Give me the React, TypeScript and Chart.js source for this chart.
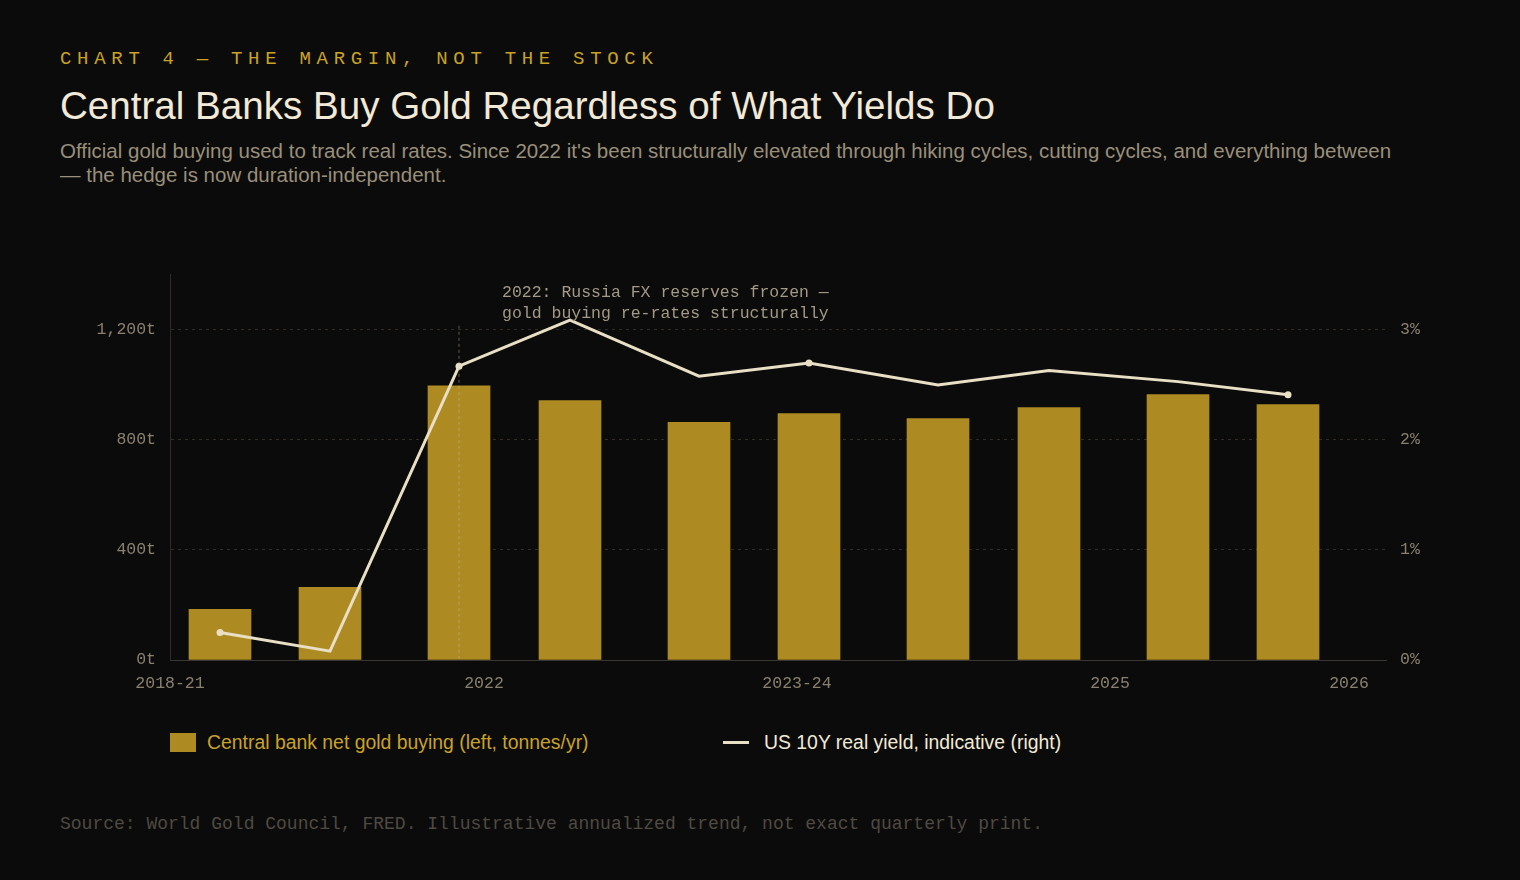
import React, { useEffect, useRef } from "react";
import { Chart, registerables } from "chart.js";
Chart.register(...registerables);

const barX = [50, 160, 289, 400, 529, 639, 768, 879, 1008, 1118];
const goldBuying = [184, 264, 997, 943, 864, 896, 878, 918, 965, 929];
const realYield = [0.25, 0.08, 2.67, 3.09, 2.58, 2.7, 2.5, 2.63, 2.53, 2.41];
const markerIdx = [0, 2, 5, 9];
const xTickValues = [0, 314, 627, 940, 1179];
const xTickLabels = ["2018-21", "2022", "2023-24", "2025", "2026"];
const leftTicks = [0, 400, 800, 1200];
const rightTicks = [0, 1, 2, 3];

const MONO = "'Liberation Mono', 'DejaVu Sans Mono', monospace";
const SANS = "'Liberation Sans', Arial, sans-serif";

export default function App() {
  const ref = useRef<HTMLCanvasElement>(null);
  useEffect(() => {
    const annot = {
      id: "annot",
      afterDatasetsDraw(chart: any) {
        const { ctx, scales } = chart;
        const x = scales.x.getPixelForValue(barX[2]);
        const yTop = scales.y.getPixelForValue(1215);
        const yBot = scales.y.getPixelForValue(0);
        ctx.save();
        ctx.strokeStyle = "rgba(200,190,160,0.45)";
        ctx.setLineDash([3, 3]);
        ctx.lineWidth = 1;
        ctx.beginPath();
        ctx.moveTo(x, yTop);
        ctx.lineTo(x, yBot);
        ctx.stroke();
        ctx.setLineDash([]);
        ctx.fillStyle = "#a39a86";
        ctx.font = "16.5px " + MONO;
        ctx.textBaseline = "middle";
        ctx.fillText("2022: Russia FX reserves frozen —", x + 43, scales.y.getPixelForValue(1337));
        ctx.fillText("gold buying re-rates structurally", x + 43, scales.y.getPixelForValue(1258));
        ctx.restore();
      },
    };
    const chart = new Chart(ref.current!, {
      type: "bar",
      data: {
        datasets: [
          {
            type: "line",
            data: barX.map((x, i) => ({ x, y: realYield[i] })),
            yAxisID: "y1",
            borderColor: "#e8dfc4",
            backgroundColor: "#e8dfc4",
            borderWidth: 3,
            pointRadius: barX.map((_, i) => (markerIdx.includes(i) ? 3.5 : 0)),
            pointBorderWidth: 0,
            order: 0,
          } as any,
          {
            type: "bar",
            data: barX.map((x, i) => ({ x, y: goldBuying[i] })),
            yAxisID: "y",
            backgroundColor: "#ad8a22",
            barThickness: 62,
            order: 1,
          },
        ],
      },
      options: {
        animation: false,
        responsive: false,
        maintainAspectRatio: false,
        layout: { padding: { top: 10 } },
        plugins: { legend: { display: false }, tooltip: { enabled: false } },
        scales: {
          x: {
            type: "linear",
            offset: false,
            min: 0,
            max: 1216,
            afterBuildTicks: (s: any) => {
              s.ticks = xTickValues.map((v) => ({ value: v }));
            },
            afterFit: (s: any) => {
              s.height = 40;
            },
            ticks: {
              autoSkip: false,
              maxRotation: 0,
              padding: 14,
              color: "#8a8070",
              font: { family: MONO, size: 16.5 },
              callback: (v: any) => xTickLabels[xTickValues.indexOf(v)] ?? "",
            },
            grid: { display: false, drawTicks: false },
            border: { color: "#3a3630", width: 1 },
          },
          y: {
            position: "left",
            min: 0,
            max: 1400,
            afterBuildTicks: (s: any) => {
              s.ticks = leftTicks.map((v) => ({ value: v }));
            },
            afterFit: (s: any) => {
              s.width = 110;
            },
            ticks: {
              padding: 14,
              color: "#8a8070",
              font: { family: MONO, size: 16.5 },
              callback: (v: any) => (v === 0 ? "0t" : Number(v).toLocaleString("en-US") + "t"),
            },
            grid: { color: "rgba(120,110,90,0.35)", drawTicks: false, tickBorderDash: [3, 3] } as any,
            border: { color: "#3a3630", dash: [3, 4] } as any,
          },
          y1: {
            position: "right",
            min: 0,
            max: 3.5,
            afterBuildTicks: (s: any) => {
              s.ticks = rightTicks.map((v) => ({ value: v }));
            },
            afterFit: (s: any) => {
              s.width = 54;
            },
            ticks: {
              padding: 14,
              color: "#8a8070",
              font: { family: MONO, size: 16.5 },
              callback: (v: any) => v + "%",
            },
            grid: { display: false, drawTicks: false },
            border: { display: false },
          },
        },
      },
      plugins: [
        annot,
        {
          id: "solidLeft",
          afterDraw(chart: any) {
            const { ctx, chartArea } = chart;
            ctx.save();
            ctx.strokeStyle = "#2e2b27";
            ctx.lineWidth = 1;
            ctx.beginPath();
            ctx.moveTo(chartArea.left + 0.5, chartArea.top);
            ctx.lineTo(chartArea.left + 0.5, chartArea.bottom);
            ctx.stroke();
            ctx.restore();
          },
        },
      ],
    });
    return () => chart.destroy();
  }, []);

  return (
    <div style={{ position: "fixed", inset: 0, background: "#0b0b0b", overflow: "hidden" }}>
      <div style={{ position: "absolute", left: 60, top: 48, fontFamily: MONO, fontSize: 19, letterSpacing: "0.3em", color: "#c9a227" }}>
        CHART 4 — THE MARGIN, NOT THE STOCK
      </div>
      <div style={{ position: "absolute", left: 60, top: 84, fontFamily: SANS, fontSize: 38.6, color: "#f2e9d6" }}>
        Central Banks Buy Gold Regardless of What Yields Do
      </div>
      <div style={{ position: "absolute", left: 60, top: 139, width: 1350, fontFamily: SANS, fontSize: 20.5, lineHeight: "24px", color: "#9a8f7a" }}>
        Official gold buying used to track real rates. Since 2022 it's been structurally elevated through hiking cycles, cutting cycles, and everything between — the hedge is now duration-independent.
      </div>
      <canvas ref={ref} width={1380} height={449} style={{ position: "absolute", left: 60, top: 251, width: 1380, height: 449 }} />
      <div style={{ position: "absolute", left: 170, top: 731, display: "flex", alignItems: "center", fontFamily: SANS, fontSize: 19.4, color: "#c9a227" }}>
        <span style={{ display: "inline-block", width: 26, height: 19, background: "#ad8a22", marginRight: 11 }} />
        Central bank net gold buying (left, tonnes/yr)
      </div>
      <div style={{ position: "absolute", left: 723, top: 731, display: "flex", alignItems: "center", fontFamily: SANS, fontSize: 19.4, color: "#f2e9d6" }}>
        <span style={{ display: "inline-block", width: 26, height: 3, background: "#e8dfc4", marginRight: 15 }} />
        US 10Y real yield, indicative (right)
      </div>
      <div style={{ position: "absolute", left: 60, top: 814, fontFamily: MONO, fontSize: 18, color: "#4f4a42" }}>
        Source: World Gold Council, FRED. Illustrative annualized trend, not exact quarterly print.
      </div>
    </div>
  );
}
